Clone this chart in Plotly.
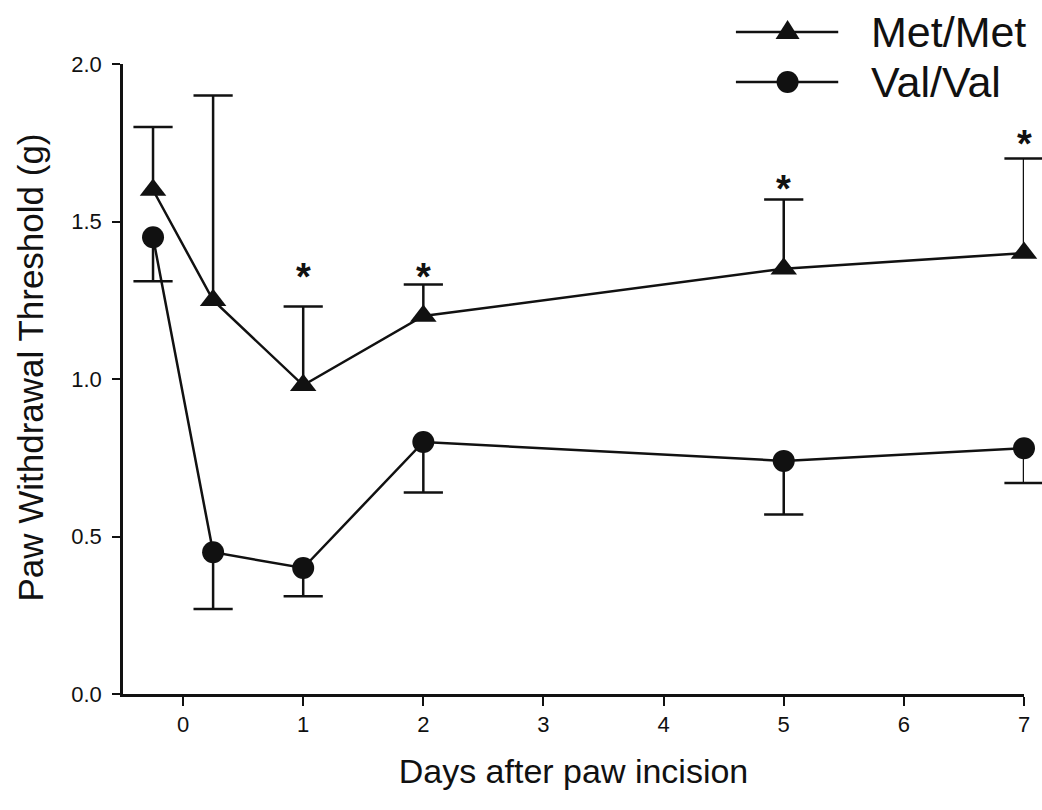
import plotly.graph_objects as go

# Days after incision (baseline and post-incision time points)
days = [-0.25, 0.25, 1, 2, 5, 7]

# Mean paw withdrawal threshold (g) and SEM for each genotype
met_mean = [1.60, 1.25, 0.98, 1.20, 1.35, 1.40]
met_err = [0.20, 0.65, 0.25, 0.10, 0.22, 0.30]
val_mean = [1.45, 0.45, 0.40, 0.80, 0.74, 0.78]
val_err = [0.14, 0.18, 0.09, 0.16, 0.17, 0.11]

# Significance markers
sig_days = [1, 2, 5, 7]
sig_y = [1.35, 1.35, 1.63, 1.77]

x_ticks = [0, 1, 2, 3, 4, 5, 6, 7]
y_ticks = [0.0, 0.5, 1.0, 1.5, 2.0]

INK = "#111111"
FONT = "Arial, Liberation Sans, sans-serif"


def stem_trace(xs, ys, errs, direction):
    sx, sy = [], []
    for x, y, e in zip(xs, ys, errs):
        sx += [x, x, None]
        sy += [y, y + direction * e, None]
    return go.Scatter(x=sx, y=sy, mode="lines", line=dict(color=INK, width=2.5),
                      showlegend=False, hoverinfo="skip", cliponaxis=False)


def cap_trace(xs, ys, errs, direction):
    return go.Scatter(x=xs, y=[y + direction * e for y, e in zip(ys, errs)],
                      mode="markers",
                      marker=dict(symbol="line-ew", size=28,
                                  line=dict(color=INK, width=2.5)),
                      showlegend=False, hoverinfo="skip", cliponaxis=False)


fig = go.Figure()

# one-sided error bars: up for Met/Met, down for Val/Val
fig.add_trace(stem_trace(days, met_mean, met_err, 1))
fig.add_trace(cap_trace(days, met_mean, met_err, 1))
fig.add_trace(stem_trace(days, val_mean, val_err, -1))
fig.add_trace(cap_trace(days, val_mean, val_err, -1))

fig.add_trace(go.Scatter(
    x=days, y=met_mean, mode="lines+markers", name="Met/Met",
    line=dict(color=INK, width=2.5),
    marker=dict(symbol="triangle-up", size=23, color=INK),
    showlegend=False, cliponaxis=False))
fig.add_trace(go.Scatter(
    x=days, y=val_mean, mode="lines+markers", name="Val/Val",
    line=dict(color=INK, width=2.5),
    marker=dict(symbol="circle", size=22, color=INK),
    showlegend=False, cliponaxis=False))

for d, y in zip(sig_days, sig_y):
    fig.add_annotation(x=d, y=y, text="<b>*</b>", showarrow=False,
                       font=dict(size=38, color=INK, family=FONT),
                       yanchor="middle", yshift=-8)

# plot area in pixels: x 123..1030, y 64..694
L, R, T, B = 123, 1030, 64, 694


def px(xp):
    return (xp - L) / (R - L)


def py(yp):
    return (B - yp) / (B - T)


legend_rows = [("Met/Met", 32, "triangle"), ("Val/Val", 82, "circle")]
for label, ypix, kind in legend_rows:
    yy = py(ypix)
    fig.add_shape(type="line", xref="paper", yref="paper",
                  x0=px(740), x1=px(843), y0=yy, y1=yy,
                  line=dict(color=INK, width=2.5))
    if kind == "triangle":
        fig.add_shape(type="path", xref="paper", yref="paper",
                      xsizemode="pixel", ysizemode="pixel",
                      xanchor=px(792), yanchor=yy,
                      path="M -12 -7 L 12 -7 L 0 12 Z",
                      fillcolor=INK, line=dict(color=INK, width=0))
    else:
        fig.add_shape(type="circle", xref="paper", yref="paper",
                      xsizemode="pixel", ysizemode="pixel",
                      xanchor=px(792), yanchor=yy,
                      x0=-11, x1=11, y0=-11, y1=11,
                      fillcolor=INK, line=dict(color=INK, width=0))
    fig.add_annotation(xref="paper", yref="paper", x=px(874), y=yy,
                       xanchor="left", yanchor="middle", showarrow=False,
                       text=label, font=dict(size=43, color=INK, family=FONT))

# y-axis title placed as a rotated annotation
fig.add_annotation(xref="paper", yref="paper", x=px(30), y=py(368),
                   xanchor="center", yanchor="middle", showarrow=False,
                   textangle=-90, text="Paw Withdrawal Threshold (g)",
                   font=dict(size=35, color=INK, family=FONT))

fig.update_layout(
    width=1042, height=810,
    margin=dict(l=L, r=1042 - R, t=T, b=810 - B),
    paper_bgcolor="white", plot_bgcolor="white",
    font=dict(family=FONT, color=INK),
    xaxis=dict(range=[-0.5, 7], tickvals=x_ticks, ticks="outside",
               ticklen=9, tickwidth=2, tickcolor=INK,
               showline=True, linecolor=INK, linewidth=2.5,
               showgrid=False, zeroline=False,
               tickfont=dict(size=22, color=INK),
               title=dict(text="Days after paw incision",
                          font=dict(size=34, color=INK), standoff=24)),
    yaxis=dict(range=[0, 2.0], tickvals=y_ticks, tickformat=".1f",
               ticks="outside", ticklen=8, tickwidth=2, tickcolor=INK,
               showline=True, linecolor=INK, linewidth=2.5,
               showgrid=False, zeroline=False, ticklabelstandoff=6,
               tickfont=dict(size=22, color=INK)),
)

fig.write_html("out.html")
